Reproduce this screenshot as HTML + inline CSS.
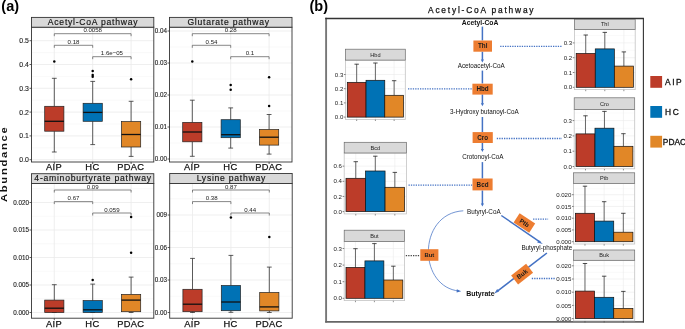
<!DOCTYPE html>
<html><head><meta charset="utf-8"><style>
html,body{margin:0;padding:0;background:#fff;width:685px;height:329px;overflow:hidden}
svg{display:block;will-change:transform}
text{paint-order:stroke}
text{font-family:"Liberation Sans", sans-serif}
</style></head><body>
<svg width="685" height="329" viewBox="0 0 685 329" font-family='"Liberation Sans", sans-serif'>
<rect x="0" y="0" width="685" height="329" fill="#fff" stroke="none" stroke-width="0" />
<text x="1.3" y="11.0" font-size="14.5" text-anchor="start" font-weight="bold" fill="#000" >(a)</text>
<line x1="31.5" y1="147.79999999999998" x2="153.8" y2="147.79999999999998" stroke="#F2F2F2" stroke-width="0.5" />
<line x1="31.5" y1="123.99999999999997" x2="153.8" y2="123.99999999999997" stroke="#F2F2F2" stroke-width="0.5" />
<line x1="31.5" y1="100.19999999999996" x2="153.8" y2="100.19999999999996" stroke="#F2F2F2" stroke-width="0.5" />
<line x1="31.5" y1="76.39999999999995" x2="153.8" y2="76.39999999999995" stroke="#F2F2F2" stroke-width="0.5" />
<line x1="31.5" y1="52.59999999999994" x2="153.8" y2="52.59999999999994" stroke="#F2F2F2" stroke-width="0.5" />
<line x1="31.5" y1="28.799999999999926" x2="153.8" y2="28.799999999999926" stroke="#F2F2F2" stroke-width="0.5" />
<line x1="31.5" y1="159.7" x2="153.8" y2="159.7" stroke="#EBEBEB" stroke-width="0.8" />
<line x1="31.5" y1="135.89999999999998" x2="153.8" y2="135.89999999999998" stroke="#EBEBEB" stroke-width="0.8" />
<line x1="31.5" y1="112.1" x2="153.8" y2="112.1" stroke="#EBEBEB" stroke-width="0.8" />
<line x1="31.5" y1="88.29999999999998" x2="153.8" y2="88.29999999999998" stroke="#EBEBEB" stroke-width="0.8" />
<line x1="31.5" y1="64.49999999999999" x2="153.8" y2="64.49999999999999" stroke="#EBEBEB" stroke-width="0.8" />
<line x1="31.5" y1="40.69999999999999" x2="153.8" y2="40.69999999999999" stroke="#EBEBEB" stroke-width="0.8" />
<line x1="54.3" y1="27.2" x2="54.3" y2="162.0" stroke="#EBEBEB" stroke-width="0.8" />
<line x1="92.7" y1="27.2" x2="92.7" y2="162.0" stroke="#EBEBEB" stroke-width="0.8" />
<line x1="131.1" y1="27.2" x2="131.1" y2="162.0" stroke="#EBEBEB" stroke-width="0.8" />
<line x1="54.3" y1="78.3" x2="54.3" y2="106.3" stroke="#333" stroke-width="0.8" />
<line x1="54.3" y1="131.2" x2="54.3" y2="152" stroke="#333" stroke-width="0.8" />
<line x1="51.9" y1="78.3" x2="56.699999999999996" y2="78.3" stroke="#333" stroke-width="0.8" />
<line x1="51.9" y1="152" x2="56.699999999999996" y2="152" stroke="#333" stroke-width="0.8" />
<rect x="44.699999999999996" y="106.3" width="19.2" height="24.89999999999999" fill="#BC3C29" stroke="#222" stroke-width="0.7" />
<line x1="44.699999999999996" y1="121.3" x2="63.9" y2="121.3" stroke="#111" stroke-width="1.3" />
<circle cx="54.3" cy="61.6" r="1.25" fill="#000"/>
<line x1="92.7" y1="81.4" x2="92.7" y2="103.3" stroke="#333" stroke-width="0.8" />
<line x1="92.7" y1="121.3" x2="92.7" y2="144.6" stroke="#333" stroke-width="0.8" />
<line x1="90.3" y1="81.4" x2="95.10000000000001" y2="81.4" stroke="#333" stroke-width="0.8" />
<line x1="90.3" y1="144.6" x2="95.10000000000001" y2="144.6" stroke="#333" stroke-width="0.8" />
<rect x="83.10000000000001" y="103.3" width="19.2" height="18.0" fill="#0072B5" stroke="#222" stroke-width="0.7" />
<line x1="83.10000000000001" y1="112.4" x2="102.3" y2="112.4" stroke="#111" stroke-width="1.3" />
<circle cx="92.7" cy="70.9" r="1.25" fill="#000"/>
<circle cx="92.7" cy="75.0" r="1.25" fill="#000"/>
<circle cx="92.7" cy="76.7" r="1.25" fill="#000"/>
<line x1="131.1" y1="101.3" x2="131.1" y2="121.6" stroke="#333" stroke-width="0.8" />
<line x1="131.1" y1="147.0" x2="131.1" y2="156.4" stroke="#333" stroke-width="0.8" />
<line x1="128.7" y1="101.3" x2="133.5" y2="101.3" stroke="#333" stroke-width="0.8" />
<line x1="128.7" y1="156.4" x2="133.5" y2="156.4" stroke="#333" stroke-width="0.8" />
<rect x="121.5" y="121.6" width="19.2" height="25.400000000000006" fill="#E18727" stroke="#222" stroke-width="0.7" />
<line x1="121.5" y1="134.5" x2="140.7" y2="134.5" stroke="#111" stroke-width="1.3" />
<circle cx="131.1" cy="79.2" r="1.25" fill="#000"/>
<path d="M54.3,36.2 V33.7 H131.1 V36.2" fill="none" stroke="#555" stroke-width="0.7"/>
<text x="92.69999999999999" y="32.400000000000006" font-size="6.1" text-anchor="middle" font-weight="normal" fill="#222" >0.0058</text>
<path d="M54.3,47.8 V45.3 H92.7 V47.8" fill="none" stroke="#555" stroke-width="0.7"/>
<text x="73.5" y="44.0" font-size="6.1" text-anchor="middle" font-weight="normal" fill="#222" >0.18</text>
<path d="M92.7,59.2 V56.7 H131.1 V59.2" fill="none" stroke="#555" stroke-width="0.7"/>
<text x="111.9" y="55.400000000000006" font-size="6.1" text-anchor="middle" font-weight="normal" fill="#222" >1.6e−05</text>
<rect x="31.5" y="27.2" width="122.30000000000001" height="134.8" fill="none" stroke="#333" stroke-width="0.9" />
<rect x="31.5" y="17.4" width="122.30000000000001" height="9.8" fill="#D9D9D9" stroke="#333" stroke-width="0.9" />
<text x="93.05000000000001" y="24.8" font-size="8.6" text-anchor="middle" font-weight="normal" fill="#111" letter-spacing="0.75"  stroke="#111" stroke-width="0.15">Acetyl-CoA pathway</text>
<line x1="29.5" y1="159.7" x2="31.5" y2="159.7" stroke="#333" stroke-width="0.8" />
<text x="28.9" y="162.11499999999998" font-size="6.9" text-anchor="end" font-weight="normal" fill="#222"  stroke="#222" stroke-width="0.12">0.0</text>
<line x1="29.5" y1="135.89999999999998" x2="31.5" y2="135.89999999999998" stroke="#333" stroke-width="0.8" />
<text x="28.9" y="138.31499999999997" font-size="6.9" text-anchor="end" font-weight="normal" fill="#222"  stroke="#222" stroke-width="0.12">0.1</text>
<line x1="29.5" y1="112.1" x2="31.5" y2="112.1" stroke="#333" stroke-width="0.8" />
<text x="28.9" y="114.515" font-size="6.9" text-anchor="end" font-weight="normal" fill="#222"  stroke="#222" stroke-width="0.12">0.2</text>
<line x1="29.5" y1="88.29999999999998" x2="31.5" y2="88.29999999999998" stroke="#333" stroke-width="0.8" />
<text x="28.9" y="90.71499999999999" font-size="6.9" text-anchor="end" font-weight="normal" fill="#222"  stroke="#222" stroke-width="0.12">0.3</text>
<line x1="29.5" y1="64.49999999999999" x2="31.5" y2="64.49999999999999" stroke="#333" stroke-width="0.8" />
<text x="28.9" y="66.91499999999999" font-size="6.9" text-anchor="end" font-weight="normal" fill="#222"  stroke="#222" stroke-width="0.12">0.4</text>
<line x1="29.5" y1="40.69999999999999" x2="31.5" y2="40.69999999999999" stroke="#333" stroke-width="0.8" />
<text x="28.9" y="43.11499999999999" font-size="6.9" text-anchor="end" font-weight="normal" fill="#222"  stroke="#222" stroke-width="0.12">0.5</text>
<line x1="54.3" y1="162.0" x2="54.3" y2="164.0" stroke="#333" stroke-width="0.8" />
<text x="54.0" y="170.2" font-size="9.3" text-anchor="middle" font-weight="normal" fill="#111" letter-spacing="0.35"  stroke="#111" stroke-width="0.25">AIP</text>
<line x1="92.7" y1="162.0" x2="92.7" y2="164.0" stroke="#333" stroke-width="0.8" />
<text x="92.4" y="170.2" font-size="9.3" text-anchor="middle" font-weight="normal" fill="#111" letter-spacing="0.35"  stroke="#111" stroke-width="0.25">HC</text>
<line x1="131.1" y1="162.0" x2="131.1" y2="164.0" stroke="#333" stroke-width="0.8" />
<text x="130.79999999999998" y="170.2" font-size="9.3" text-anchor="middle" font-weight="normal" fill="#111" letter-spacing="0.35"  stroke="#111" stroke-width="0.25">PDAC</text>
<line x1="169.5" y1="143.0" x2="292.0" y2="143.0" stroke="#F2F2F2" stroke-width="0.5" />
<line x1="169.5" y1="111.0" x2="292.0" y2="111.0" stroke="#F2F2F2" stroke-width="0.5" />
<line x1="169.5" y1="79.0" x2="292.0" y2="79.0" stroke="#F2F2F2" stroke-width="0.5" />
<line x1="169.5" y1="47.0" x2="292.0" y2="47.0" stroke="#F2F2F2" stroke-width="0.5" />
<line x1="169.5" y1="159.0" x2="292.0" y2="159.0" stroke="#EBEBEB" stroke-width="0.8" />
<line x1="169.5" y1="127.0" x2="292.0" y2="127.0" stroke="#EBEBEB" stroke-width="0.8" />
<line x1="169.5" y1="95.0" x2="292.0" y2="95.0" stroke="#EBEBEB" stroke-width="0.8" />
<line x1="169.5" y1="63.0" x2="292.0" y2="63.0" stroke="#EBEBEB" stroke-width="0.8" />
<line x1="169.5" y1="31.0" x2="292.0" y2="31.0" stroke="#EBEBEB" stroke-width="0.8" />
<line x1="192.3" y1="27.2" x2="192.3" y2="162.0" stroke="#EBEBEB" stroke-width="0.8" />
<line x1="230.7" y1="27.2" x2="230.7" y2="162.0" stroke="#EBEBEB" stroke-width="0.8" />
<line x1="269.1" y1="27.2" x2="269.1" y2="162.0" stroke="#EBEBEB" stroke-width="0.8" />
<line x1="192.3" y1="100.2" x2="192.3" y2="122.4" stroke="#333" stroke-width="0.8" />
<line x1="192.3" y1="141.8" x2="192.3" y2="156.3" stroke="#333" stroke-width="0.8" />
<line x1="189.9" y1="100.2" x2="194.70000000000002" y2="100.2" stroke="#333" stroke-width="0.8" />
<line x1="189.9" y1="156.3" x2="194.70000000000002" y2="156.3" stroke="#333" stroke-width="0.8" />
<rect x="182.70000000000002" y="122.4" width="19.2" height="19.400000000000006" fill="#BC3C29" stroke="#222" stroke-width="0.7" />
<line x1="182.70000000000002" y1="132.0" x2="201.9" y2="132.0" stroke="#111" stroke-width="1.3" />
<circle cx="192.3" cy="61.5" r="1.25" fill="#000"/>
<line x1="230.7" y1="107.9" x2="230.7" y2="119.7" stroke="#333" stroke-width="0.8" />
<line x1="230.7" y1="137.7" x2="230.7" y2="148.1" stroke="#333" stroke-width="0.8" />
<line x1="228.29999999999998" y1="107.9" x2="233.1" y2="107.9" stroke="#333" stroke-width="0.8" />
<line x1="228.29999999999998" y1="148.1" x2="233.1" y2="148.1" stroke="#333" stroke-width="0.8" />
<rect x="221.1" y="119.7" width="19.2" height="17.999999999999986" fill="#0072B5" stroke="#222" stroke-width="0.7" />
<line x1="221.1" y1="134.7" x2="240.29999999999998" y2="134.7" stroke="#111" stroke-width="1.3" />
<circle cx="230.7" cy="84.9" r="1.25" fill="#000"/>
<circle cx="230.7" cy="89.8" r="1.25" fill="#000"/>
<line x1="269.1" y1="114.5" x2="269.1" y2="129.5" stroke="#333" stroke-width="0.8" />
<line x1="269.1" y1="145.1" x2="269.1" y2="154.1" stroke="#333" stroke-width="0.8" />
<line x1="266.70000000000005" y1="114.5" x2="271.5" y2="114.5" stroke="#333" stroke-width="0.8" />
<line x1="266.70000000000005" y1="154.1" x2="271.5" y2="154.1" stroke="#333" stroke-width="0.8" />
<rect x="259.5" y="129.5" width="19.2" height="15.599999999999994" fill="#E18727" stroke="#222" stroke-width="0.7" />
<line x1="259.5" y1="137.2" x2="278.70000000000005" y2="137.2" stroke="#111" stroke-width="1.3" />
<circle cx="269.1" cy="106.0" r="1.25" fill="#000"/>
<circle cx="269.1" cy="77.3" r="1.25" fill="#000"/>
<path d="M192.3,36.2 V33.7 H269.1 V36.2" fill="none" stroke="#555" stroke-width="0.7"/>
<text x="230.70000000000002" y="32.400000000000006" font-size="6.1" text-anchor="middle" font-weight="normal" fill="#222" >0.28</text>
<path d="M192.3,47.8 V45.3 H230.7 V47.8" fill="none" stroke="#555" stroke-width="0.7"/>
<text x="211.5" y="44.0" font-size="6.1" text-anchor="middle" font-weight="normal" fill="#222" >0.54</text>
<path d="M230.7,59.2 V56.7 H269.1 V59.2" fill="none" stroke="#555" stroke-width="0.7"/>
<text x="249.9" y="55.400000000000006" font-size="6.1" text-anchor="middle" font-weight="normal" fill="#222" >0.1</text>
<rect x="169.5" y="27.2" width="122.5" height="134.8" fill="none" stroke="#333" stroke-width="0.9" />
<rect x="169.5" y="17.4" width="122.5" height="9.8" fill="#D9D9D9" stroke="#333" stroke-width="0.9" />
<text x="228.65" y="24.8" font-size="8.6" text-anchor="middle" font-weight="normal" fill="#111" letter-spacing="0.75"  stroke="#111" stroke-width="0.15">Glutarate pathway</text>
<line x1="167.5" y1="159.0" x2="169.5" y2="159.0" stroke="#333" stroke-width="0.8" />
<text x="166.9" y="161.205" font-size="6.3" text-anchor="end" font-weight="normal" fill="#222"  stroke="#222" stroke-width="0.12">0.00</text>
<line x1="167.5" y1="127.0" x2="169.5" y2="127.0" stroke="#333" stroke-width="0.8" />
<text x="166.9" y="129.205" font-size="6.3" text-anchor="end" font-weight="normal" fill="#222"  stroke="#222" stroke-width="0.12">0.01</text>
<line x1="167.5" y1="95.0" x2="169.5" y2="95.0" stroke="#333" stroke-width="0.8" />
<text x="166.9" y="97.205" font-size="6.3" text-anchor="end" font-weight="normal" fill="#222"  stroke="#222" stroke-width="0.12">0.02</text>
<line x1="167.5" y1="63.0" x2="169.5" y2="63.0" stroke="#333" stroke-width="0.8" />
<text x="166.9" y="65.205" font-size="6.3" text-anchor="end" font-weight="normal" fill="#222"  stroke="#222" stroke-width="0.12">0.03</text>
<line x1="167.5" y1="31.0" x2="169.5" y2="31.0" stroke="#333" stroke-width="0.8" />
<text x="166.9" y="33.205" font-size="6.3" text-anchor="end" font-weight="normal" fill="#222"  stroke="#222" stroke-width="0.12">0.04</text>
<line x1="192.3" y1="162.0" x2="192.3" y2="164.0" stroke="#333" stroke-width="0.8" />
<text x="192.0" y="170.2" font-size="9.3" text-anchor="middle" font-weight="normal" fill="#111" letter-spacing="0.35"  stroke="#111" stroke-width="0.25">AIP</text>
<line x1="230.7" y1="162.0" x2="230.7" y2="164.0" stroke="#333" stroke-width="0.8" />
<text x="230.39999999999998" y="170.2" font-size="9.3" text-anchor="middle" font-weight="normal" fill="#111" letter-spacing="0.35"  stroke="#111" stroke-width="0.25">HC</text>
<line x1="269.1" y1="162.0" x2="269.1" y2="164.0" stroke="#333" stroke-width="0.8" />
<text x="268.8" y="170.2" font-size="9.3" text-anchor="middle" font-weight="normal" fill="#111" letter-spacing="0.35"  stroke="#111" stroke-width="0.25">PDAC</text>
<line x1="31.5" y1="298.75" x2="153.8" y2="298.75" stroke="#F2F2F2" stroke-width="0.5" />
<line x1="31.5" y1="271.25" x2="153.8" y2="271.25" stroke="#F2F2F2" stroke-width="0.5" />
<line x1="31.5" y1="243.75" x2="153.8" y2="243.75" stroke="#F2F2F2" stroke-width="0.5" />
<line x1="31.5" y1="216.25" x2="153.8" y2="216.25" stroke="#F2F2F2" stroke-width="0.5" />
<line x1="31.5" y1="188.75" x2="153.8" y2="188.75" stroke="#F2F2F2" stroke-width="0.5" />
<line x1="31.5" y1="312.5" x2="153.8" y2="312.5" stroke="#EBEBEB" stroke-width="0.8" />
<line x1="31.5" y1="285.0" x2="153.8" y2="285.0" stroke="#EBEBEB" stroke-width="0.8" />
<line x1="31.5" y1="257.5" x2="153.8" y2="257.5" stroke="#EBEBEB" stroke-width="0.8" />
<line x1="31.5" y1="230.0" x2="153.8" y2="230.0" stroke="#EBEBEB" stroke-width="0.8" />
<line x1="31.5" y1="202.5" x2="153.8" y2="202.5" stroke="#EBEBEB" stroke-width="0.8" />
<line x1="54.3" y1="183.5" x2="54.3" y2="318.2" stroke="#EBEBEB" stroke-width="0.8" />
<line x1="92.7" y1="183.5" x2="92.7" y2="318.2" stroke="#EBEBEB" stroke-width="0.8" />
<line x1="131.1" y1="183.5" x2="131.1" y2="318.2" stroke="#EBEBEB" stroke-width="0.8" />
<line x1="54.3" y1="284.7" x2="54.3" y2="300.1" stroke="#333" stroke-width="0.8" />
<line x1="54.3" y1="312.5" x2="54.3" y2="312.5" stroke="#333" stroke-width="0.8" />
<line x1="51.9" y1="284.7" x2="56.699999999999996" y2="284.7" stroke="#333" stroke-width="0.8" />
<line x1="51.9" y1="312.5" x2="56.699999999999996" y2="312.5" stroke="#333" stroke-width="0.8" />
<rect x="44.699999999999996" y="300.1" width="19.2" height="12.399999999999977" fill="#BC3C29" stroke="#222" stroke-width="0.7" />
<line x1="44.699999999999996" y1="308.2" x2="63.9" y2="308.2" stroke="#111" stroke-width="1.3" />
<line x1="92.7" y1="284.1" x2="92.7" y2="300.6" stroke="#333" stroke-width="0.8" />
<line x1="92.7" y1="312.5" x2="92.7" y2="312.5" stroke="#333" stroke-width="0.8" />
<line x1="90.3" y1="284.1" x2="95.10000000000001" y2="284.1" stroke="#333" stroke-width="0.8" />
<line x1="90.3" y1="312.5" x2="95.10000000000001" y2="312.5" stroke="#333" stroke-width="0.8" />
<rect x="83.10000000000001" y="300.6" width="19.2" height="11.899999999999977" fill="#0072B5" stroke="#222" stroke-width="0.7" />
<line x1="83.10000000000001" y1="309.8" x2="102.3" y2="309.8" stroke="#111" stroke-width="1.3" />
<circle cx="92.7" cy="280.0" r="1.25" fill="#000"/>
<line x1="131.1" y1="277.1" x2="131.1" y2="294.4" stroke="#333" stroke-width="0.8" />
<line x1="131.1" y1="311.7" x2="131.1" y2="312.5" stroke="#333" stroke-width="0.8" />
<line x1="128.7" y1="277.1" x2="133.5" y2="277.1" stroke="#333" stroke-width="0.8" />
<line x1="128.7" y1="312.5" x2="133.5" y2="312.5" stroke="#333" stroke-width="0.8" />
<rect x="121.5" y="294.4" width="19.2" height="17.30000000000001" fill="#E18727" stroke="#222" stroke-width="0.7" />
<line x1="121.5" y1="300.1" x2="140.7" y2="300.1" stroke="#111" stroke-width="1.3" />
<circle cx="131.1" cy="252.7" r="1.25" fill="#000"/>
<circle cx="131.1" cy="216.9" r="1.25" fill="#000"/>
<path d="M54.3,192.5 V190.0 H131.1 V192.5" fill="none" stroke="#555" stroke-width="0.7"/>
<text x="92.69999999999999" y="188.7" font-size="6.1" text-anchor="middle" font-weight="normal" fill="#222" >0.09</text>
<path d="M54.3,204.1 V201.6 H92.7 V204.1" fill="none" stroke="#555" stroke-width="0.7"/>
<text x="73.5" y="200.29999999999998" font-size="6.1" text-anchor="middle" font-weight="normal" fill="#222" >0.67</text>
<path d="M92.7,215.5 V213.0 H131.1 V215.5" fill="none" stroke="#555" stroke-width="0.7"/>
<text x="111.9" y="211.7" font-size="6.1" text-anchor="middle" font-weight="normal" fill="#222" >0.059</text>
<rect x="31.5" y="183.5" width="122.30000000000001" height="134.7" fill="none" stroke="#333" stroke-width="0.9" />
<rect x="31.5" y="173.7" width="122.30000000000001" height="9.800000000000011" fill="#D9D9D9" stroke="#333" stroke-width="0.9" />
<text x="93.05000000000001" y="181.1" font-size="8.6" text-anchor="middle" font-weight="normal" fill="#111" letter-spacing="0.75"  stroke="#111" stroke-width="0.15">4-aminoburtyrate pathway</text>
<line x1="29.5" y1="312.5" x2="31.5" y2="312.5" stroke="#333" stroke-width="0.8" />
<text x="28.9" y="314.705" font-size="6.3" text-anchor="end" font-weight="normal" fill="#222"  stroke="#222" stroke-width="0.12">0.000</text>
<line x1="29.5" y1="285.0" x2="31.5" y2="285.0" stroke="#333" stroke-width="0.8" />
<text x="28.9" y="287.205" font-size="6.3" text-anchor="end" font-weight="normal" fill="#222"  stroke="#222" stroke-width="0.12">0.005</text>
<line x1="29.5" y1="257.5" x2="31.5" y2="257.5" stroke="#333" stroke-width="0.8" />
<text x="28.9" y="259.705" font-size="6.3" text-anchor="end" font-weight="normal" fill="#222"  stroke="#222" stroke-width="0.12">0.010</text>
<line x1="29.5" y1="230.0" x2="31.5" y2="230.0" stroke="#333" stroke-width="0.8" />
<text x="28.9" y="232.205" font-size="6.3" text-anchor="end" font-weight="normal" fill="#222"  stroke="#222" stroke-width="0.12">0.015</text>
<line x1="29.5" y1="202.5" x2="31.5" y2="202.5" stroke="#333" stroke-width="0.8" />
<text x="28.9" y="204.705" font-size="6.3" text-anchor="end" font-weight="normal" fill="#222"  stroke="#222" stroke-width="0.12">0.020</text>
<line x1="54.3" y1="318.2" x2="54.3" y2="320.2" stroke="#333" stroke-width="0.8" />
<text x="54.0" y="327.3" font-size="9.3" text-anchor="middle" font-weight="normal" fill="#111" letter-spacing="0.35"  stroke="#111" stroke-width="0.25">AIP</text>
<line x1="92.7" y1="318.2" x2="92.7" y2="320.2" stroke="#333" stroke-width="0.8" />
<text x="92.4" y="327.3" font-size="9.3" text-anchor="middle" font-weight="normal" fill="#111" letter-spacing="0.35"  stroke="#111" stroke-width="0.25">HC</text>
<line x1="131.1" y1="318.2" x2="131.1" y2="320.2" stroke="#333" stroke-width="0.8" />
<text x="130.79999999999998" y="327.3" font-size="9.3" text-anchor="middle" font-weight="normal" fill="#111" letter-spacing="0.35"  stroke="#111" stroke-width="0.25">PDAC</text>
<line x1="169.7" y1="296.25" x2="292.2" y2="296.25" stroke="#F2F2F2" stroke-width="0.5" />
<line x1="169.7" y1="263.75" x2="292.2" y2="263.75" stroke="#F2F2F2" stroke-width="0.5" />
<line x1="169.7" y1="231.25" x2="292.2" y2="231.25" stroke="#F2F2F2" stroke-width="0.5" />
<line x1="169.7" y1="198.75" x2="292.2" y2="198.75" stroke="#F2F2F2" stroke-width="0.5" />
<line x1="169.7" y1="312.5" x2="292.2" y2="312.5" stroke="#EBEBEB" stroke-width="0.8" />
<line x1="169.7" y1="280.0" x2="292.2" y2="280.0" stroke="#EBEBEB" stroke-width="0.8" />
<line x1="169.7" y1="247.5" x2="292.2" y2="247.5" stroke="#EBEBEB" stroke-width="0.8" />
<line x1="169.7" y1="215.0" x2="292.2" y2="215.0" stroke="#EBEBEB" stroke-width="0.8" />
<line x1="192.5" y1="183.5" x2="192.5" y2="318.2" stroke="#EBEBEB" stroke-width="0.8" />
<line x1="230.89999999999998" y1="183.5" x2="230.89999999999998" y2="318.2" stroke="#EBEBEB" stroke-width="0.8" />
<line x1="269.29999999999995" y1="183.5" x2="269.29999999999995" y2="318.2" stroke="#EBEBEB" stroke-width="0.8" />
<line x1="192.5" y1="258.4" x2="192.5" y2="289.3" stroke="#333" stroke-width="0.8" />
<line x1="192.5" y1="311.7" x2="192.5" y2="312.5" stroke="#333" stroke-width="0.8" />
<line x1="190.1" y1="258.4" x2="194.9" y2="258.4" stroke="#333" stroke-width="0.8" />
<line x1="190.1" y1="312.5" x2="194.9" y2="312.5" stroke="#333" stroke-width="0.8" />
<rect x="182.9" y="289.3" width="19.2" height="22.399999999999977" fill="#BC3C29" stroke="#222" stroke-width="0.7" />
<line x1="182.9" y1="304.2" x2="202.1" y2="304.2" stroke="#111" stroke-width="1.3" />
<line x1="230.89999999999998" y1="255.4" x2="230.89999999999998" y2="285.5" stroke="#333" stroke-width="0.8" />
<line x1="230.89999999999998" y1="310.7" x2="230.89999999999998" y2="312.3" stroke="#333" stroke-width="0.8" />
<line x1="228.49999999999997" y1="255.4" x2="233.29999999999998" y2="255.4" stroke="#333" stroke-width="0.8" />
<line x1="228.49999999999997" y1="312.3" x2="233.29999999999998" y2="312.3" stroke="#333" stroke-width="0.8" />
<rect x="221.29999999999998" y="285.5" width="19.2" height="25.19999999999999" fill="#0072B5" stroke="#222" stroke-width="0.7" />
<line x1="221.29999999999998" y1="302.0" x2="240.49999999999997" y2="302.0" stroke="#111" stroke-width="1.3" />
<circle cx="230.89999999999998" cy="217.4" r="1.25" fill="#000"/>
<line x1="269.29999999999995" y1="267.1" x2="269.29999999999995" y2="292.5" stroke="#333" stroke-width="0.8" />
<line x1="269.29999999999995" y1="310.9" x2="269.29999999999995" y2="312.5" stroke="#333" stroke-width="0.8" />
<line x1="266.9" y1="267.1" x2="271.69999999999993" y2="267.1" stroke="#333" stroke-width="0.8" />
<line x1="266.9" y1="312.5" x2="271.69999999999993" y2="312.5" stroke="#333" stroke-width="0.8" />
<rect x="259.69999999999993" y="292.5" width="19.2" height="18.399999999999977" fill="#E18727" stroke="#222" stroke-width="0.7" />
<line x1="259.69999999999993" y1="306.9" x2="278.9" y2="306.9" stroke="#111" stroke-width="1.3" />
<circle cx="269.29999999999995" cy="237.1" r="1.25" fill="#000"/>
<path d="M192.5,192.5 V190.0 H269.29999999999995 V192.5" fill="none" stroke="#555" stroke-width="0.7"/>
<text x="230.89999999999998" y="188.7" font-size="6.1" text-anchor="middle" font-weight="normal" fill="#222" >0.87</text>
<path d="M192.5,204.1 V201.6 H230.89999999999998 V204.1" fill="none" stroke="#555" stroke-width="0.7"/>
<text x="211.7" y="200.29999999999998" font-size="6.1" text-anchor="middle" font-weight="normal" fill="#222" >0.38</text>
<path d="M230.89999999999998,215.5 V213.0 H269.29999999999995 V215.5" fill="none" stroke="#555" stroke-width="0.7"/>
<text x="250.09999999999997" y="211.7" font-size="6.1" text-anchor="middle" font-weight="normal" fill="#222" >0.44</text>
<rect x="169.7" y="183.5" width="122.5" height="134.7" fill="none" stroke="#333" stroke-width="0.9" />
<rect x="169.7" y="173.5" width="122.5" height="10.0" fill="#D9D9D9" stroke="#333" stroke-width="0.9" />
<text x="231.35" y="181.1" font-size="8.6" text-anchor="middle" font-weight="normal" fill="#111" letter-spacing="0.75"  stroke="#111" stroke-width="0.15">Lysine pathway</text>
<line x1="167.7" y1="312.5" x2="169.7" y2="312.5" stroke="#333" stroke-width="0.8" />
<text x="167.1" y="314.705" font-size="6.3" text-anchor="end" font-weight="normal" fill="#222"  stroke="#222" stroke-width="0.12">0.00</text>
<line x1="167.7" y1="280.0" x2="169.7" y2="280.0" stroke="#333" stroke-width="0.8" />
<text x="167.1" y="282.205" font-size="6.3" text-anchor="end" font-weight="normal" fill="#222"  stroke="#222" stroke-width="0.12">0.03</text>
<line x1="167.7" y1="247.5" x2="169.7" y2="247.5" stroke="#333" stroke-width="0.8" />
<text x="167.1" y="249.705" font-size="6.3" text-anchor="end" font-weight="normal" fill="#222"  stroke="#222" stroke-width="0.12">0.06</text>
<line x1="167.7" y1="215.0" x2="169.7" y2="215.0" stroke="#333" stroke-width="0.8" />
<text x="167.1" y="217.205" font-size="6.3" text-anchor="end" font-weight="normal" fill="#222"  stroke="#222" stroke-width="0.12">009</text>
<line x1="192.5" y1="318.2" x2="192.5" y2="320.2" stroke="#333" stroke-width="0.8" />
<text x="192.2" y="327.3" font-size="9.3" text-anchor="middle" font-weight="normal" fill="#111" letter-spacing="0.35"  stroke="#111" stroke-width="0.25">AIP</text>
<line x1="230.89999999999998" y1="318.2" x2="230.89999999999998" y2="320.2" stroke="#333" stroke-width="0.8" />
<text x="230.59999999999997" y="327.3" font-size="9.3" text-anchor="middle" font-weight="normal" fill="#111" letter-spacing="0.35"  stroke="#111" stroke-width="0.25">HC</text>
<line x1="269.29999999999995" y1="318.2" x2="269.29999999999995" y2="320.2" stroke="#333" stroke-width="0.8" />
<text x="268.99999999999994" y="327.3" font-size="9.3" text-anchor="middle" font-weight="normal" fill="#111" letter-spacing="0.35"  stroke="#111" stroke-width="0.25">PDAC</text>
<text transform="translate(7.3,202.0) rotate(-90) scale(1.17,1)" font-size="9.6" font-weight="bold" fill="#111" letter-spacing="1.45">Abundance</text>
<text x="309.5" y="10.8" font-size="14.5" text-anchor="start" font-weight="bold" fill="#000" >(b)</text>
<text x="428.0" y="13.3" font-size="8.4" text-anchor="start" font-weight="normal" fill="#111" letter-spacing="1.8" stroke="#111" stroke-width="0.25">Acetyl-CoA pathway</text>
<line x1="326.1" y1="17.8" x2="326.1" y2="322.6" stroke="#777" stroke-width="1.9" />
<line x1="325.2" y1="21.8" x2="325.2" y2="21.8" stroke="#777" stroke-width="0" />
<line x1="325.2" y1="321.8" x2="643.9" y2="321.8" stroke="#666" stroke-width="1.8" />
<line x1="643.4" y1="17.9" x2="643.4" y2="322.6" stroke="#333" stroke-width="1.1" />
<line x1="325.2" y1="18.5" x2="643.9" y2="18.5" stroke="#333" stroke-width="1.35" />
<line x1="345.5" y1="110.0" x2="405.3" y2="110.0" stroke="#F2F2F2" stroke-width="0.4" />
<line x1="345.5" y1="95.8" x2="405.3" y2="95.8" stroke="#F2F2F2" stroke-width="0.4" />
<line x1="345.5" y1="81.6" x2="405.3" y2="81.6" stroke="#F2F2F2" stroke-width="0.4" />
<line x1="345.5" y1="67.39999999999999" x2="405.3" y2="67.39999999999999" stroke="#F2F2F2" stroke-width="0.4" />
<line x1="345.5" y1="117.1" x2="405.3" y2="117.1" stroke="#EBEBEB" stroke-width="0.6" />
<line x1="345.5" y1="102.89999999999999" x2="405.3" y2="102.89999999999999" stroke="#EBEBEB" stroke-width="0.6" />
<line x1="345.5" y1="88.69999999999999" x2="405.3" y2="88.69999999999999" stroke="#EBEBEB" stroke-width="0.6" />
<line x1="345.5" y1="74.5" x2="405.3" y2="74.5" stroke="#EBEBEB" stroke-width="0.6" />
<line x1="356.6666666666667" y1="60.1" x2="356.6666666666667" y2="119.39999999999999" stroke="#EBEBEB" stroke-width="0.6" />
<line x1="375.40000000000003" y1="60.1" x2="375.40000000000003" y2="119.39999999999999" stroke="#EBEBEB" stroke-width="0.6" />
<line x1="394.1333333333334" y1="60.1" x2="394.1333333333334" y2="119.39999999999999" stroke="#EBEBEB" stroke-width="0.6" />
<line x1="356.6666666666667" y1="64.2" x2="356.6666666666667" y2="82.4" stroke="#444" stroke-width="0.8" />
<line x1="354.4666666666667" y1="64.2" x2="358.8666666666667" y2="64.2" stroke="#222" stroke-width="0.8" />
<line x1="375.40000000000003" y1="63.0" x2="375.40000000000003" y2="80.3" stroke="#444" stroke-width="0.8" />
<line x1="373.20000000000005" y1="63.0" x2="377.6" y2="63.0" stroke="#222" stroke-width="0.8" />
<line x1="394.1333333333334" y1="80.7" x2="394.1333333333334" y2="95.3" stroke="#444" stroke-width="0.8" />
<line x1="391.9333333333334" y1="80.7" x2="396.33333333333337" y2="80.7" stroke="#222" stroke-width="0.8" />
<rect x="347.3" y="82.4" width="18.733333333333338" height="34.69999999999999" fill="#BC3C29" stroke="#111" stroke-width="0.7" />
<rect x="366.03333333333336" y="80.3" width="18.733333333333338" height="36.8" fill="#0072B5" stroke="#111" stroke-width="0.7" />
<rect x="384.7666666666667" y="95.3" width="18.733333333333338" height="21.799999999999997" fill="#E18727" stroke="#111" stroke-width="0.7" />
<rect x="345.5" y="60.1" width="59.80000000000001" height="59.29999999999999" fill="none" stroke="#c4c4c4" stroke-width="0.8" />
<rect x="345.5" y="49.2" width="59.80000000000001" height="10.899999999999999" fill="#D9D9D9" stroke="#6a6a6a" stroke-width="0.7" />
<text x="375.4" y="56.9" font-size="5.6" text-anchor="middle" font-weight="normal" fill="#222" >Hbd</text>
<line x1="343.9" y1="117.1" x2="345.5" y2="117.1" stroke="#333" stroke-width="0.6" />
<text x="343.3" y="119.19999999999999" font-size="6.1" text-anchor="end" font-weight="normal" fill="#222" >0.0</text>
<line x1="343.9" y1="102.89999999999999" x2="345.5" y2="102.89999999999999" stroke="#333" stroke-width="0.6" />
<text x="343.3" y="104.99999999999999" font-size="6.1" text-anchor="end" font-weight="normal" fill="#222" >0.1</text>
<line x1="343.9" y1="88.69999999999999" x2="345.5" y2="88.69999999999999" stroke="#333" stroke-width="0.6" />
<text x="343.3" y="90.79999999999998" font-size="6.1" text-anchor="end" font-weight="normal" fill="#222" >0.2</text>
<line x1="343.9" y1="74.5" x2="345.5" y2="74.5" stroke="#333" stroke-width="0.6" />
<text x="343.3" y="76.6" font-size="6.1" text-anchor="end" font-weight="normal" fill="#222" >0.3</text>
<line x1="356.6666666666667" y1="119.6" x2="356.6666666666667" y2="120.99999999999999" stroke="#444" stroke-width="0.6" />
<line x1="375.40000000000003" y1="119.6" x2="375.40000000000003" y2="120.99999999999999" stroke="#444" stroke-width="0.6" />
<line x1="394.1333333333334" y1="119.6" x2="394.1333333333334" y2="120.99999999999999" stroke="#444" stroke-width="0.6" />
<line x1="344.2" y1="204.025" x2="406.4" y2="204.025" stroke="#F2F2F2" stroke-width="0.4" />
<line x1="344.2" y1="188.875" x2="406.4" y2="188.875" stroke="#F2F2F2" stroke-width="0.4" />
<line x1="344.2" y1="173.725" x2="406.4" y2="173.725" stroke="#F2F2F2" stroke-width="0.4" />
<line x1="344.2" y1="158.575" x2="406.4" y2="158.575" stroke="#F2F2F2" stroke-width="0.4" />
<line x1="344.2" y1="211.6" x2="406.4" y2="211.6" stroke="#EBEBEB" stroke-width="0.6" />
<line x1="344.2" y1="196.45" x2="406.4" y2="196.45" stroke="#EBEBEB" stroke-width="0.6" />
<line x1="344.2" y1="181.29999999999998" x2="406.4" y2="181.29999999999998" stroke="#EBEBEB" stroke-width="0.6" />
<line x1="344.2" y1="166.14999999999998" x2="406.4" y2="166.14999999999998" stroke="#EBEBEB" stroke-width="0.6" />
<line x1="355.76666666666665" y1="153.0" x2="355.76666666666665" y2="213.9" stroke="#EBEBEB" stroke-width="0.6" />
<line x1="375.29999999999995" y1="153.0" x2="375.29999999999995" y2="213.9" stroke="#EBEBEB" stroke-width="0.6" />
<line x1="394.8333333333333" y1="153.0" x2="394.8333333333333" y2="213.9" stroke="#EBEBEB" stroke-width="0.6" />
<line x1="355.76666666666665" y1="161.7" x2="355.76666666666665" y2="178.3" stroke="#444" stroke-width="0.8" />
<line x1="353.56666666666666" y1="161.7" x2="357.96666666666664" y2="161.7" stroke="#222" stroke-width="0.8" />
<line x1="375.29999999999995" y1="156.2" x2="375.29999999999995" y2="171.0" stroke="#444" stroke-width="0.8" />
<line x1="373.09999999999997" y1="156.2" x2="377.49999999999994" y2="156.2" stroke="#222" stroke-width="0.8" />
<line x1="394.8333333333333" y1="172.4" x2="394.8333333333333" y2="187.3" stroke="#444" stroke-width="0.8" />
<line x1="392.6333333333333" y1="172.4" x2="397.0333333333333" y2="172.4" stroke="#222" stroke-width="0.8" />
<rect x="346.0" y="178.3" width="19.533333333333328" height="33.29999999999998" fill="#BC3C29" stroke="#111" stroke-width="0.7" />
<rect x="365.5333333333333" y="171.0" width="19.533333333333328" height="40.599999999999994" fill="#0072B5" stroke="#111" stroke-width="0.7" />
<rect x="385.06666666666666" y="187.3" width="19.533333333333328" height="24.299999999999983" fill="#E18727" stroke="#111" stroke-width="0.7" />
<rect x="344.2" y="153.0" width="62.19999999999999" height="60.900000000000006" fill="none" stroke="#c4c4c4" stroke-width="0.8" />
<rect x="344.2" y="142.3" width="62.19999999999999" height="10.699999999999989" fill="#D9D9D9" stroke="#6a6a6a" stroke-width="0.7" />
<text x="375.29999999999995" y="149.8" font-size="5.6" text-anchor="middle" font-weight="normal" fill="#222" >Bcd</text>
<line x1="342.59999999999997" y1="211.6" x2="344.2" y2="211.6" stroke="#333" stroke-width="0.6" />
<text x="342.0" y="213.7" font-size="6.1" text-anchor="end" font-weight="normal" fill="#222" >0.0</text>
<line x1="342.59999999999997" y1="196.45" x2="344.2" y2="196.45" stroke="#333" stroke-width="0.6" />
<text x="342.0" y="198.54999999999998" font-size="6.1" text-anchor="end" font-weight="normal" fill="#222" >0.2</text>
<line x1="342.59999999999997" y1="181.29999999999998" x2="344.2" y2="181.29999999999998" stroke="#333" stroke-width="0.6" />
<text x="342.0" y="183.39999999999998" font-size="6.1" text-anchor="end" font-weight="normal" fill="#222" >0.4</text>
<line x1="342.59999999999997" y1="166.14999999999998" x2="344.2" y2="166.14999999999998" stroke="#333" stroke-width="0.6" />
<text x="342.0" y="168.24999999999997" font-size="6.1" text-anchor="end" font-weight="normal" fill="#222" >0.6</text>
<line x1="355.76666666666665" y1="214.1" x2="355.76666666666665" y2="215.5" stroke="#444" stroke-width="0.6" />
<line x1="375.29999999999995" y1="214.1" x2="375.29999999999995" y2="215.5" stroke="#444" stroke-width="0.6" />
<line x1="394.8333333333333" y1="214.1" x2="394.8333333333333" y2="215.5" stroke="#444" stroke-width="0.6" />
<line x1="344.2" y1="290.0" x2="404.6" y2="290.0" stroke="#F2F2F2" stroke-width="0.4" />
<line x1="344.2" y1="273.4" x2="404.6" y2="273.4" stroke="#F2F2F2" stroke-width="0.4" />
<line x1="344.2" y1="256.79999999999995" x2="404.6" y2="256.79999999999995" stroke="#F2F2F2" stroke-width="0.4" />
<line x1="344.2" y1="298.3" x2="404.6" y2="298.3" stroke="#EBEBEB" stroke-width="0.6" />
<line x1="344.2" y1="281.7" x2="404.6" y2="281.7" stroke="#EBEBEB" stroke-width="0.6" />
<line x1="344.2" y1="265.1" x2="404.6" y2="265.1" stroke="#EBEBEB" stroke-width="0.6" />
<line x1="344.2" y1="248.5" x2="404.6" y2="248.5" stroke="#EBEBEB" stroke-width="0.6" />
<line x1="355.4666666666667" y1="241.4" x2="355.4666666666667" y2="300.6" stroke="#EBEBEB" stroke-width="0.6" />
<line x1="374.40000000000003" y1="241.4" x2="374.40000000000003" y2="300.6" stroke="#EBEBEB" stroke-width="0.6" />
<line x1="393.33333333333337" y1="241.4" x2="393.33333333333337" y2="300.6" stroke="#EBEBEB" stroke-width="0.6" />
<line x1="355.4666666666667" y1="248.7" x2="355.4666666666667" y2="267.4" stroke="#444" stroke-width="0.8" />
<line x1="353.2666666666667" y1="248.7" x2="357.6666666666667" y2="248.7" stroke="#222" stroke-width="0.8" />
<line x1="374.40000000000003" y1="243.6" x2="374.40000000000003" y2="260.9" stroke="#444" stroke-width="0.8" />
<line x1="372.20000000000005" y1="243.6" x2="376.6" y2="243.6" stroke="#222" stroke-width="0.8" />
<line x1="393.33333333333337" y1="266.2" x2="393.33333333333337" y2="280.0" stroke="#444" stroke-width="0.8" />
<line x1="391.1333333333334" y1="266.2" x2="395.53333333333336" y2="266.2" stroke="#222" stroke-width="0.8" />
<rect x="346.0" y="267.4" width="18.933333333333344" height="30.900000000000034" fill="#BC3C29" stroke="#111" stroke-width="0.7" />
<rect x="364.93333333333334" y="260.9" width="18.933333333333344" height="37.400000000000034" fill="#0072B5" stroke="#111" stroke-width="0.7" />
<rect x="383.8666666666667" y="280.0" width="18.933333333333344" height="18.30000000000001" fill="#E18727" stroke="#111" stroke-width="0.7" />
<rect x="344.2" y="241.4" width="60.400000000000034" height="59.20000000000002" fill="none" stroke="#c4c4c4" stroke-width="0.8" />
<rect x="344.2" y="230.2" width="60.400000000000034" height="11.200000000000017" fill="#D9D9D9" stroke="#6a6a6a" stroke-width="0.7" />
<text x="374.4" y="238.20000000000002" font-size="5.6" text-anchor="middle" font-weight="normal" fill="#222" >But</text>
<line x1="342.59999999999997" y1="298.3" x2="344.2" y2="298.3" stroke="#333" stroke-width="0.6" />
<text x="342.0" y="300.40000000000003" font-size="6.1" text-anchor="end" font-weight="normal" fill="#222" >0.0</text>
<line x1="342.59999999999997" y1="281.7" x2="344.2" y2="281.7" stroke="#333" stroke-width="0.6" />
<text x="342.0" y="283.8" font-size="6.1" text-anchor="end" font-weight="normal" fill="#222" >0.1</text>
<line x1="342.59999999999997" y1="265.1" x2="344.2" y2="265.1" stroke="#333" stroke-width="0.6" />
<text x="342.0" y="267.20000000000005" font-size="6.1" text-anchor="end" font-weight="normal" fill="#222" >0.2</text>
<line x1="342.59999999999997" y1="248.5" x2="344.2" y2="248.5" stroke="#333" stroke-width="0.6" />
<text x="342.0" y="250.6" font-size="6.1" text-anchor="end" font-weight="normal" fill="#222" >0.3</text>
<line x1="355.4666666666667" y1="300.8" x2="355.4666666666667" y2="302.20000000000005" stroke="#444" stroke-width="0.6" />
<line x1="374.40000000000003" y1="300.8" x2="374.40000000000003" y2="302.20000000000005" stroke="#444" stroke-width="0.6" />
<line x1="393.33333333333337" y1="300.8" x2="393.33333333333337" y2="302.20000000000005" stroke="#444" stroke-width="0.6" />
<line x1="574.4" y1="79.89999999999999" x2="635.2" y2="79.89999999999999" stroke="#F2F2F2" stroke-width="0.4" />
<line x1="574.4" y1="65.1" x2="635.2" y2="65.1" stroke="#F2F2F2" stroke-width="0.4" />
<line x1="574.4" y1="50.3" x2="635.2" y2="50.3" stroke="#F2F2F2" stroke-width="0.4" />
<line x1="574.4" y1="35.5" x2="635.2" y2="35.5" stroke="#F2F2F2" stroke-width="0.4" />
<line x1="574.4" y1="87.3" x2="635.2" y2="87.3" stroke="#EBEBEB" stroke-width="0.6" />
<line x1="574.4" y1="72.5" x2="635.2" y2="72.5" stroke="#EBEBEB" stroke-width="0.6" />
<line x1="574.4" y1="57.699999999999996" x2="635.2" y2="57.699999999999996" stroke="#EBEBEB" stroke-width="0.6" />
<line x1="574.4" y1="42.89999999999999" x2="635.2" y2="42.89999999999999" stroke="#EBEBEB" stroke-width="0.6" />
<line x1="585.7333333333332" y1="29.5" x2="585.7333333333332" y2="89.6" stroke="#EBEBEB" stroke-width="0.6" />
<line x1="604.8" y1="29.5" x2="604.8" y2="89.6" stroke="#EBEBEB" stroke-width="0.6" />
<line x1="623.8666666666666" y1="29.5" x2="623.8666666666666" y2="89.6" stroke="#EBEBEB" stroke-width="0.6" />
<line x1="585.7333333333332" y1="35.0" x2="585.7333333333332" y2="53.5" stroke="#444" stroke-width="0.8" />
<line x1="583.5333333333332" y1="35.0" x2="587.9333333333333" y2="35.0" stroke="#222" stroke-width="0.8" />
<line x1="604.8" y1="32.4" x2="604.8" y2="48.9" stroke="#444" stroke-width="0.8" />
<line x1="602.5999999999999" y1="32.4" x2="607.0" y2="32.4" stroke="#222" stroke-width="0.8" />
<line x1="623.8666666666666" y1="51.9" x2="623.8666666666666" y2="66.1" stroke="#444" stroke-width="0.8" />
<line x1="621.6666666666665" y1="51.9" x2="626.0666666666666" y2="51.9" stroke="#222" stroke-width="0.8" />
<rect x="576.1999999999999" y="53.5" width="19.066666666666688" height="33.8" fill="#BC3C29" stroke="#111" stroke-width="0.7" />
<rect x="595.2666666666667" y="48.9" width="19.066666666666688" height="38.4" fill="#0072B5" stroke="#111" stroke-width="0.7" />
<rect x="614.3333333333333" y="66.1" width="19.066666666666688" height="21.200000000000003" fill="#E18727" stroke="#111" stroke-width="0.7" />
<rect x="574.4" y="29.5" width="60.80000000000007" height="60.099999999999994" fill="none" stroke="#c4c4c4" stroke-width="0.8" />
<rect x="574.4" y="19.3" width="60.80000000000007" height="10.2" fill="#D9D9D9" stroke="#6a6a6a" stroke-width="0.7" />
<text x="604.8" y="26.3" font-size="5.6" text-anchor="middle" font-weight="normal" fill="#222" >Thl</text>
<line x1="572.8" y1="87.3" x2="574.4" y2="87.3" stroke="#333" stroke-width="0.6" />
<text x="572.1999999999999" y="89.39999999999999" font-size="6.1" text-anchor="end" font-weight="normal" fill="#222" >0.0</text>
<line x1="572.8" y1="72.5" x2="574.4" y2="72.5" stroke="#333" stroke-width="0.6" />
<text x="572.1999999999999" y="74.6" font-size="6.1" text-anchor="end" font-weight="normal" fill="#222" >0.1</text>
<line x1="572.8" y1="57.699999999999996" x2="574.4" y2="57.699999999999996" stroke="#333" stroke-width="0.6" />
<text x="572.1999999999999" y="59.8" font-size="6.1" text-anchor="end" font-weight="normal" fill="#222" >0.2</text>
<line x1="572.8" y1="42.89999999999999" x2="574.4" y2="42.89999999999999" stroke="#333" stroke-width="0.6" />
<text x="572.1999999999999" y="44.99999999999999" font-size="6.1" text-anchor="end" font-weight="normal" fill="#222" >0.3</text>
<line x1="585.7333333333332" y1="89.8" x2="585.7333333333332" y2="91.19999999999999" stroke="#444" stroke-width="0.6" />
<line x1="604.8" y1="89.8" x2="604.8" y2="91.19999999999999" stroke="#444" stroke-width="0.6" />
<line x1="623.8666666666666" y1="89.8" x2="623.8666666666666" y2="91.19999999999999" stroke="#444" stroke-width="0.6" />
<line x1="574.2" y1="158.85" x2="634.7" y2="158.85" stroke="#F2F2F2" stroke-width="0.4" />
<line x1="574.2" y1="143.54999999999998" x2="634.7" y2="143.54999999999998" stroke="#F2F2F2" stroke-width="0.4" />
<line x1="574.2" y1="128.24999999999997" x2="634.7" y2="128.24999999999997" stroke="#F2F2F2" stroke-width="0.4" />
<line x1="574.2" y1="112.94999999999997" x2="634.7" y2="112.94999999999997" stroke="#F2F2F2" stroke-width="0.4" />
<line x1="574.2" y1="166.5" x2="634.7" y2="166.5" stroke="#EBEBEB" stroke-width="0.6" />
<line x1="574.2" y1="151.2" x2="634.7" y2="151.2" stroke="#EBEBEB" stroke-width="0.6" />
<line x1="574.2" y1="135.9" x2="634.7" y2="135.9" stroke="#EBEBEB" stroke-width="0.6" />
<line x1="574.2" y1="120.6" x2="634.7" y2="120.6" stroke="#EBEBEB" stroke-width="0.6" />
<line x1="585.4833333333333" y1="109.4" x2="585.4833333333333" y2="168.8" stroke="#EBEBEB" stroke-width="0.6" />
<line x1="604.45" y1="109.4" x2="604.45" y2="168.8" stroke="#EBEBEB" stroke-width="0.6" />
<line x1="623.4166666666666" y1="109.4" x2="623.4166666666666" y2="168.8" stroke="#EBEBEB" stroke-width="0.6" />
<line x1="585.4833333333333" y1="115.8" x2="585.4833333333333" y2="133.9" stroke="#444" stroke-width="0.8" />
<line x1="583.2833333333333" y1="115.8" x2="587.6833333333334" y2="115.8" stroke="#222" stroke-width="0.8" />
<line x1="604.45" y1="111.4" x2="604.45" y2="128.2" stroke="#444" stroke-width="0.8" />
<line x1="602.25" y1="111.4" x2="606.6500000000001" y2="111.4" stroke="#222" stroke-width="0.8" />
<line x1="623.4166666666666" y1="133.7" x2="623.4166666666666" y2="146.3" stroke="#444" stroke-width="0.8" />
<line x1="621.2166666666666" y1="133.7" x2="625.6166666666667" y2="133.7" stroke="#222" stroke-width="0.8" />
<rect x="576.0" y="133.9" width="18.966666666666665" height="32.599999999999994" fill="#BC3C29" stroke="#111" stroke-width="0.7" />
<rect x="594.9666666666667" y="128.2" width="18.966666666666665" height="38.30000000000001" fill="#0072B5" stroke="#111" stroke-width="0.7" />
<rect x="613.9333333333333" y="146.3" width="18.966666666666665" height="20.19999999999999" fill="#E18727" stroke="#111" stroke-width="0.7" />
<rect x="574.2" y="109.4" width="60.5" height="59.400000000000006" fill="none" stroke="#c4c4c4" stroke-width="0.8" />
<rect x="574.2" y="97.8" width="60.5" height="11.600000000000009" fill="#D9D9D9" stroke="#6a6a6a" stroke-width="0.7" />
<text x="604.45" y="106.2" font-size="5.6" text-anchor="middle" font-weight="normal" fill="#222" >Cro</text>
<line x1="572.6" y1="166.5" x2="574.2" y2="166.5" stroke="#333" stroke-width="0.6" />
<text x="572.0" y="168.6" font-size="6.1" text-anchor="end" font-weight="normal" fill="#222" >0.0</text>
<line x1="572.6" y1="151.2" x2="574.2" y2="151.2" stroke="#333" stroke-width="0.6" />
<text x="572.0" y="153.29999999999998" font-size="6.1" text-anchor="end" font-weight="normal" fill="#222" >0.1</text>
<line x1="572.6" y1="135.9" x2="574.2" y2="135.9" stroke="#333" stroke-width="0.6" />
<text x="572.0" y="138.0" font-size="6.1" text-anchor="end" font-weight="normal" fill="#222" >0.2</text>
<line x1="572.6" y1="120.6" x2="574.2" y2="120.6" stroke="#333" stroke-width="0.6" />
<text x="572.0" y="122.69999999999999" font-size="6.1" text-anchor="end" font-weight="normal" fill="#222" >0.3</text>
<line x1="585.4833333333333" y1="169.0" x2="585.4833333333333" y2="170.4" stroke="#444" stroke-width="0.6" />
<line x1="604.45" y1="169.0" x2="604.45" y2="170.4" stroke="#444" stroke-width="0.6" />
<line x1="623.4166666666666" y1="169.0" x2="623.4166666666666" y2="170.4" stroke="#444" stroke-width="0.6" />
<line x1="573.6" y1="235.825" x2="634.7" y2="235.825" stroke="#F2F2F2" stroke-width="0.4" />
<line x1="573.6" y1="224.075" x2="634.7" y2="224.075" stroke="#F2F2F2" stroke-width="0.4" />
<line x1="573.6" y1="212.325" x2="634.7" y2="212.325" stroke="#F2F2F2" stroke-width="0.4" />
<line x1="573.6" y1="200.575" x2="634.7" y2="200.575" stroke="#F2F2F2" stroke-width="0.4" />
<line x1="573.6" y1="188.825" x2="634.7" y2="188.825" stroke="#F2F2F2" stroke-width="0.4" />
<line x1="573.6" y1="241.7" x2="634.7" y2="241.7" stroke="#EBEBEB" stroke-width="0.6" />
<line x1="573.6" y1="229.95" x2="634.7" y2="229.95" stroke="#EBEBEB" stroke-width="0.6" />
<line x1="573.6" y1="218.2" x2="634.7" y2="218.2" stroke="#EBEBEB" stroke-width="0.6" />
<line x1="573.6" y1="206.45" x2="634.7" y2="206.45" stroke="#EBEBEB" stroke-width="0.6" />
<line x1="573.6" y1="194.7" x2="634.7" y2="194.7" stroke="#EBEBEB" stroke-width="0.6" />
<line x1="584.9833333333333" y1="183.6" x2="584.9833333333333" y2="244.0" stroke="#EBEBEB" stroke-width="0.6" />
<line x1="604.15" y1="183.6" x2="604.15" y2="244.0" stroke="#EBEBEB" stroke-width="0.6" />
<line x1="623.3166666666667" y1="183.6" x2="623.3166666666667" y2="244.0" stroke="#EBEBEB" stroke-width="0.6" />
<line x1="584.9833333333333" y1="186.2" x2="584.9833333333333" y2="213.3" stroke="#444" stroke-width="0.8" />
<line x1="582.7833333333333" y1="186.2" x2="587.1833333333334" y2="186.2" stroke="#222" stroke-width="0.8" />
<line x1="604.15" y1="201.7" x2="604.15" y2="221.1" stroke="#444" stroke-width="0.8" />
<line x1="601.9499999999999" y1="201.7" x2="606.35" y2="201.7" stroke="#222" stroke-width="0.8" />
<line x1="623.3166666666667" y1="213.3" x2="623.3166666666667" y2="232.2" stroke="#444" stroke-width="0.8" />
<line x1="621.1166666666667" y1="213.3" x2="625.5166666666668" y2="213.3" stroke="#222" stroke-width="0.8" />
<rect x="575.4" y="213.3" width="19.166666666666675" height="28.399999999999977" fill="#BC3C29" stroke="#111" stroke-width="0.7" />
<rect x="594.5666666666666" y="221.1" width="19.166666666666675" height="20.599999999999994" fill="#0072B5" stroke="#111" stroke-width="0.7" />
<rect x="613.7333333333333" y="232.2" width="19.166666666666675" height="9.5" fill="#E18727" stroke="#111" stroke-width="0.7" />
<rect x="573.6" y="183.6" width="61.10000000000002" height="60.400000000000006" fill="none" stroke="#c4c4c4" stroke-width="0.8" />
<rect x="573.6" y="172.8" width="61.10000000000002" height="10.799999999999983" fill="#D9D9D9" stroke="#6a6a6a" stroke-width="0.7" />
<text x="604.1500000000001" y="180.4" font-size="5.6" text-anchor="middle" font-weight="normal" fill="#222" >Ptb</text>
<line x1="572.0" y1="241.7" x2="573.6" y2="241.7" stroke="#333" stroke-width="0.6" />
<text x="571.4" y="243.79999999999998" font-size="6.1" text-anchor="end" font-weight="normal" fill="#222" >0.000</text>
<line x1="572.0" y1="229.95" x2="573.6" y2="229.95" stroke="#333" stroke-width="0.6" />
<text x="571.4" y="232.04999999999998" font-size="6.1" text-anchor="end" font-weight="normal" fill="#222" >0.005</text>
<line x1="572.0" y1="218.2" x2="573.6" y2="218.2" stroke="#333" stroke-width="0.6" />
<text x="571.4" y="220.29999999999998" font-size="6.1" text-anchor="end" font-weight="normal" fill="#222" >0.010</text>
<line x1="572.0" y1="206.45" x2="573.6" y2="206.45" stroke="#333" stroke-width="0.6" />
<text x="571.4" y="208.54999999999998" font-size="6.1" text-anchor="end" font-weight="normal" fill="#222" >0.015</text>
<line x1="572.0" y1="194.7" x2="573.6" y2="194.7" stroke="#333" stroke-width="0.6" />
<text x="571.4" y="196.79999999999998" font-size="6.1" text-anchor="end" font-weight="normal" fill="#222" >0.020</text>
<line x1="584.9833333333333" y1="244.2" x2="584.9833333333333" y2="245.6" stroke="#444" stroke-width="0.6" />
<line x1="604.15" y1="244.2" x2="604.15" y2="245.6" stroke="#444" stroke-width="0.6" />
<line x1="623.3166666666667" y1="244.2" x2="623.3166666666667" y2="245.6" stroke="#444" stroke-width="0.6" />
<line x1="573.6" y1="312.0" x2="634.7" y2="312.0" stroke="#F2F2F2" stroke-width="0.4" />
<line x1="573.6" y1="298.8" x2="634.7" y2="298.8" stroke="#F2F2F2" stroke-width="0.4" />
<line x1="573.6" y1="285.6" x2="634.7" y2="285.6" stroke="#F2F2F2" stroke-width="0.4" />
<line x1="573.6" y1="272.40000000000003" x2="634.7" y2="272.40000000000003" stroke="#F2F2F2" stroke-width="0.4" />
<line x1="573.6" y1="318.6" x2="634.7" y2="318.6" stroke="#EBEBEB" stroke-width="0.6" />
<line x1="573.6" y1="305.40000000000003" x2="634.7" y2="305.40000000000003" stroke="#EBEBEB" stroke-width="0.6" />
<line x1="573.6" y1="292.20000000000005" x2="634.7" y2="292.20000000000005" stroke="#EBEBEB" stroke-width="0.6" />
<line x1="573.6" y1="279.0" x2="634.7" y2="279.0" stroke="#EBEBEB" stroke-width="0.6" />
<line x1="573.6" y1="265.8" x2="634.7" y2="265.8" stroke="#EBEBEB" stroke-width="0.6" />
<line x1="584.9833333333333" y1="260.3" x2="584.9833333333333" y2="320.90000000000003" stroke="#EBEBEB" stroke-width="0.6" />
<line x1="604.15" y1="260.3" x2="604.15" y2="320.90000000000003" stroke="#EBEBEB" stroke-width="0.6" />
<line x1="623.3166666666667" y1="260.3" x2="623.3166666666667" y2="320.90000000000003" stroke="#EBEBEB" stroke-width="0.6" />
<line x1="584.9833333333333" y1="263.5" x2="584.9833333333333" y2="291.1" stroke="#444" stroke-width="0.8" />
<line x1="582.7833333333333" y1="263.5" x2="587.1833333333334" y2="263.5" stroke="#222" stroke-width="0.8" />
<line x1="604.15" y1="276.2" x2="604.15" y2="297.3" stroke="#444" stroke-width="0.8" />
<line x1="601.9499999999999" y1="276.2" x2="606.35" y2="276.2" stroke="#222" stroke-width="0.8" />
<line x1="623.3166666666667" y1="291.4" x2="623.3166666666667" y2="308.4" stroke="#444" stroke-width="0.8" />
<line x1="621.1166666666667" y1="291.4" x2="625.5166666666668" y2="291.4" stroke="#222" stroke-width="0.8" />
<rect x="575.4" y="291.1" width="19.166666666666675" height="27.5" fill="#BC3C29" stroke="#111" stroke-width="0.7" />
<rect x="594.5666666666666" y="297.3" width="19.166666666666675" height="21.30000000000001" fill="#0072B5" stroke="#111" stroke-width="0.7" />
<rect x="613.7333333333333" y="308.4" width="19.166666666666675" height="10.200000000000045" fill="#E18727" stroke="#111" stroke-width="0.7" />
<rect x="573.6" y="260.3" width="61.10000000000002" height="60.60000000000002" fill="none" stroke="#c4c4c4" stroke-width="0.8" />
<rect x="573.6" y="250.0" width="61.10000000000002" height="10.300000000000011" fill="#D9D9D9" stroke="#6a6a6a" stroke-width="0.7" />
<text x="604.1500000000001" y="257.1" font-size="5.6" text-anchor="middle" font-weight="normal" fill="#222" >Buk</text>
<line x1="572.0" y1="318.6" x2="573.6" y2="318.6" stroke="#333" stroke-width="0.6" />
<text x="571.4" y="320.70000000000005" font-size="6.1" text-anchor="end" font-weight="normal" fill="#222" >0.000</text>
<line x1="572.0" y1="305.40000000000003" x2="573.6" y2="305.40000000000003" stroke="#333" stroke-width="0.6" />
<text x="571.4" y="307.50000000000006" font-size="6.1" text-anchor="end" font-weight="normal" fill="#222" >0.005</text>
<line x1="572.0" y1="292.20000000000005" x2="573.6" y2="292.20000000000005" stroke="#333" stroke-width="0.6" />
<text x="571.4" y="294.30000000000007" font-size="6.1" text-anchor="end" font-weight="normal" fill="#222" >0.010</text>
<line x1="572.0" y1="279.0" x2="573.6" y2="279.0" stroke="#333" stroke-width="0.6" />
<text x="571.4" y="281.1" font-size="6.1" text-anchor="end" font-weight="normal" fill="#222" >0.015</text>
<line x1="572.0" y1="265.8" x2="573.6" y2="265.8" stroke="#333" stroke-width="0.6" />
<text x="571.4" y="267.90000000000003" font-size="6.1" text-anchor="end" font-weight="normal" fill="#222" >0.020</text>
<line x1="584.9833333333333" y1="321.1" x2="584.9833333333333" y2="322.50000000000006" stroke="#444" stroke-width="0.6" />
<line x1="604.15" y1="321.1" x2="604.15" y2="322.50000000000006" stroke="#444" stroke-width="0.6" />
<line x1="623.3166666666667" y1="321.1" x2="623.3166666666667" y2="322.50000000000006" stroke="#444" stroke-width="0.6" />
<rect x="650.3" y="76.0" width="11.8" height="11.8" fill="#BC3C29" stroke="none" stroke-width="0" />
<text x="665.0" y="84.9" font-size="8.4" text-anchor="start" font-weight="normal" fill="#111" letter-spacing="1.6" stroke="#111" stroke-width="0.3">AIP</text>
<rect x="650.3" y="106.0" width="11.8" height="11.8" fill="#0072B5" stroke="none" stroke-width="0" />
<text x="665.0" y="114.9" font-size="8.4" text-anchor="start" font-weight="normal" fill="#111" letter-spacing="1.6" stroke="#111" stroke-width="0.3">HC</text>
<rect x="650.3" y="135.8" width="11.8" height="11.8" fill="#E18727" stroke="none" stroke-width="0" />
<text x="662.8" y="144.70000000000002" font-size="8.4" text-anchor="start" font-weight="normal" fill="#111" stroke="#111" stroke-width="0.3">PDAC</text>
<line x1="482.4" y1="26.6" x2="482.4" y2="40.5" stroke="#4472C4" stroke-width="1.5" />
<line x1="482.4" y1="51.7" x2="482.4" y2="59.9" stroke="#4472C4" stroke-width="1.5" />
<path d="M480.79999999999995,59.4 L484.0,59.4 L482.4,62.4 Z" fill="#4472C4"/>
<line x1="482.4" y1="70.6" x2="482.4" y2="83.5" stroke="#4472C4" stroke-width="1.5" />
<line x1="482.4" y1="94.4" x2="482.4" y2="103.8" stroke="#4472C4" stroke-width="1.5" />
<path d="M480.79999999999995,103.3 L484.0,103.3 L482.4,106.3 Z" fill="#4472C4"/>
<line x1="482.4" y1="117.0" x2="482.4" y2="132.1" stroke="#4472C4" stroke-width="1.5" />
<line x1="482.4" y1="143.0" x2="482.4" y2="149.5" stroke="#4472C4" stroke-width="1.5" />
<path d="M480.79999999999995,149.0 L484.0,149.0 L482.4,152.0 Z" fill="#4472C4"/>
<line x1="482.4" y1="162.1" x2="482.4" y2="178.5" stroke="#4472C4" stroke-width="1.5" />
<line x1="482.4" y1="190.4" x2="482.4" y2="204.1" stroke="#4472C4" stroke-width="1.5" />
<path d="M480.79999999999995,203.6 L484.0,203.6 L482.4,206.6 Z" fill="#4472C4"/>
<line x1="500.2" y1="46.4" x2="562.5" y2="46.4" stroke="#4472C4" stroke-width="1.3" stroke-dasharray="1.3 1.1"/>
<line x1="408.0" y1="88.9" x2="472.5" y2="88.9" stroke="#4472C4" stroke-width="1.3" stroke-dasharray="1.3 1.1"/>
<line x1="496.8" y1="138.5" x2="562.0" y2="138.5" stroke="#4472C4" stroke-width="1.3" stroke-dasharray="1.3 1.1"/>
<line x1="408.5" y1="185.1" x2="472.5" y2="185.1" stroke="#4472C4" stroke-width="1.3" stroke-dasharray="1.3 1.1"/>
<line x1="533.1" y1="219.2" x2="548.1" y2="219.2" stroke="#4472C4" stroke-width="1.3" stroke-dasharray="1.3 1.1"/>
<line x1="531.8" y1="278.5" x2="555.3" y2="278.5" stroke="#4472C4" stroke-width="1.3" stroke-dasharray="1.3 1.1"/>
<line x1="405.8" y1="255.7" x2="419.8" y2="255.7" stroke="#444" stroke-width="1.3" stroke-dasharray="1.3 1.1"/>
<path d="M463.3,210.8 C440,212 428.2,232 428.4,252 C428.6,272 440,289 458.8,291" fill="none" stroke="#4472C4" stroke-width="0.75"/>
<path d="M456.8,289.2 L461.2,291.3 L456.6,292.6 Z" fill="#4472C4"/>
<line x1="501.3" y1="215.5" x2="540.5" y2="242.3" stroke="#4472C4" stroke-width="1.5" />
<path d="M538.6,240.0 L542.8,243.9 L537.2,242.6 Z" fill="#4472C4"/>
<line x1="546.9" y1="253.0" x2="496.8" y2="291.6" stroke="#4472C4" stroke-width="1.5" />
<path d="M497.2,289.0 L494.3,293.4 L499.0,291.6 Z" fill="#4472C4"/>
<rect x="473.4" y="40.5" width="18.600000000000023" height="11.200000000000003" fill="#ED7D31" stroke="none" stroke-width="0" />
<text x="482.7" y="48.300000000000004" font-size="6.3" text-anchor="middle" font-weight="bold" fill="#1a1a1a" >Thl</text>
<rect x="472.4" y="83.7" width="20.30000000000001" height="10.899999999999991" fill="#ED7D31" stroke="none" stroke-width="0" />
<text x="482.54999999999995" y="91.35000000000001" font-size="6.3" text-anchor="middle" font-weight="bold" fill="#1a1a1a" >Hbd</text>
<rect x="472.6" y="132.1" width="20.19999999999999" height="10.900000000000006" fill="#ED7D31" stroke="none" stroke-width="0" />
<text x="482.70000000000005" y="139.75" font-size="6.3" text-anchor="middle" font-weight="bold" fill="#1a1a1a" >Cro</text>
<rect x="472.5" y="178.5" width="20.100000000000023" height="11.900000000000006" fill="#ED7D31" stroke="none" stroke-width="0" />
<text x="482.55" y="186.64999999999998" font-size="6.3" text-anchor="middle" font-weight="bold" fill="#1a1a1a" >Bcd</text>
<rect x="420.3" y="249.2" width="18.099999999999966" height="11.600000000000023" fill="#ED7D31" stroke="none" stroke-width="0" />
<text x="429.35" y="257.4" font-size="5.9" text-anchor="middle" font-weight="bold" fill="#1a1a1a" >But</text>
<g transform="translate(524.4,223.0) rotate(33)">
<rect x="-9.3" y="-5.5" width="18.6" height="11.0" fill="#ED7D31" stroke="none" stroke-width="0" />
<text x="0" y="2.2" font-size="6.3" text-anchor="middle" font-weight="bold" fill="#1a1a1a" >Ptb</text>
</g>
<g transform="translate(522.1,274.1) rotate(-38)">
<rect x="-9.5" y="-5.65" width="19.0" height="11.3" fill="#ED7D31" stroke="none" stroke-width="0" />
<text x="0" y="2.2" font-size="6.3" text-anchor="middle" font-weight="bold" fill="#1a1a1a" >Buk</text>
</g>
<text x="480.1" y="25.0" font-size="6.8" text-anchor="middle" font-weight="bold" fill="#111" >Acetyl-CoA</text>
<text x="481.2" y="68.2" font-size="6.3" text-anchor="middle" font-weight="normal" fill="#111" >Acetoacetyl-CoA</text>
<text x="484.4" y="114.3" font-size="6.3" text-anchor="middle" font-weight="normal" fill="#111" >3-Hydroxy butanoyl-CoA</text>
<text x="482.8" y="158.5" font-size="6.3" text-anchor="middle" font-weight="normal" fill="#111" >Crotonoyl-CoA</text>
<text x="483.8" y="214.3" font-size="6.3" text-anchor="middle" font-weight="normal" fill="#111" >Butyryl-CoA</text>
<text x="546.8" y="250.4" font-size="6.3" text-anchor="middle" font-weight="normal" fill="#111" >Butyryl-phosphate</text>
<text x="480.4" y="296.3" font-size="7.0" text-anchor="middle" font-weight="bold" fill="#111" >Butyrate</text>
</svg>
</body></html>
